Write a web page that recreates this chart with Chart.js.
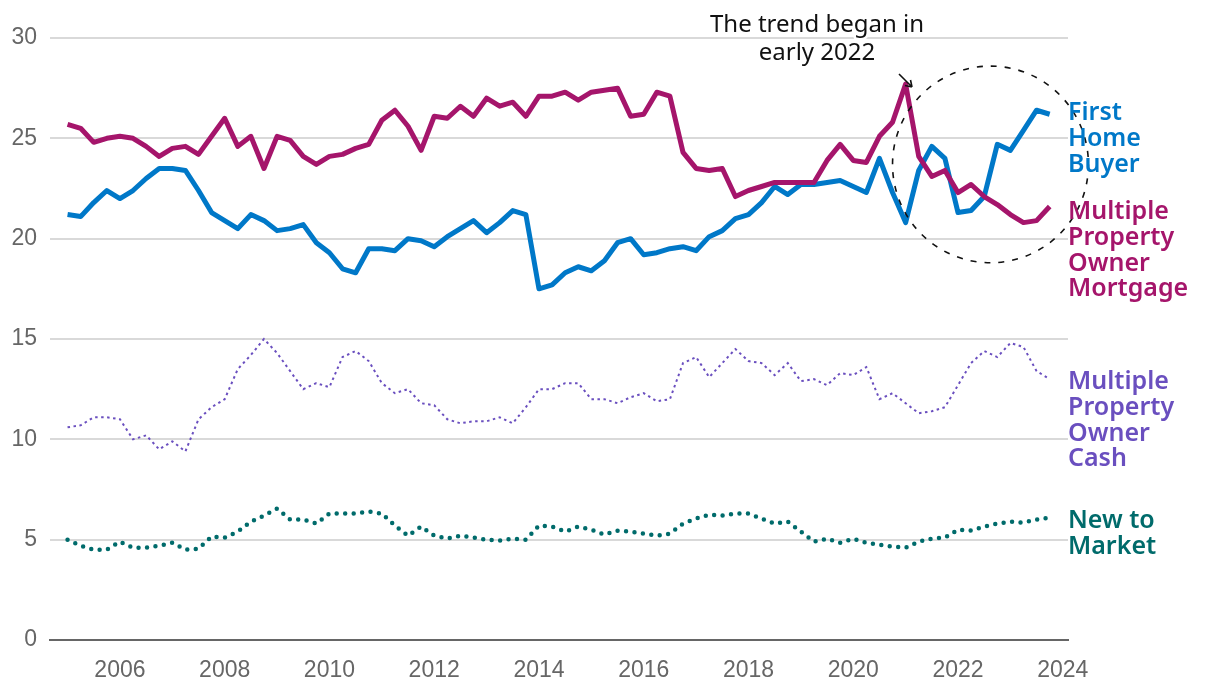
<!DOCTYPE html>
<html>
<head>
  <title>Buyer types</title>
  <script src="https://cdn.jsdelivr.net/npm/chart.js"></script>
  <style>
    html, body { margin: 0; padding: 0; background: #fff; }
    #wrap { width: 1220px; height: 686px; }
  </style>
</head>
<body>
  <div id="wrap">
    <canvas id="buyerChart"></canvas>
  </div>

  <script>
    // quarterly observations, 2005 Q1 to 2023 Q4
    const quarters = Array.from({ length: 76 }, (_, i) => 2005 + i / 4);
    const xTicks = [2006, 2008, 2010, 2012, 2014, 2016, 2018, 2020, 2022, 2024];
    const yTicks = [0, 5, 10, 15, 20, 25, 30];

    const firstHomeBuyer = [
      21.2, 21.1, 21.8, 22.4, 22.0, 22.4, 23.0, 23.5, 23.5, 23.4, 22.4, 21.3,
      20.9, 20.5, 21.2, 20.9, 20.4, 20.5, 20.7, 19.8, 19.3, 18.5, 18.3, 19.5,
      19.5, 19.4, 20.0, 19.9, 19.6, 20.1, 20.5, 20.9, 20.3, 20.8, 21.4, 21.2,
      17.5, 17.7, 18.3, 18.6, 18.4, 18.9, 19.8, 20.0, 19.2, 19.3, 19.5, 19.6,
      19.4, 20.1, 20.4, 21.0, 21.2, 21.8, 22.6, 22.2, 22.7, 22.7, 22.8, 22.9,
      22.6, 22.3, 24.0, 22.3, 20.8, 23.4, 24.6, 24.0, 21.3, 21.4, 22.1, 24.7,
      24.4, 25.4, 26.4, 26.2
    ];
    const mpoMortgage = [
      25.7, 25.5, 24.8, 25.0, 25.1, 25.0, 24.6, 24.1, 24.5, 24.6, 24.2, 25.1,
      26.0, 24.6, 25.1, 23.5, 25.1, 24.9, 24.1, 23.7, 24.1, 24.2, 24.5, 24.7,
      25.9, 26.4, 25.6, 24.4, 26.1, 26.0, 26.6, 26.1, 27.0, 26.6, 26.8, 26.1,
      27.1, 27.1, 27.3, 26.9, 27.3, 27.4, 27.5, 26.1, 26.2, 27.3, 27.1, 24.3,
      23.5, 23.4, 23.5, 22.1, 22.4, 22.6, 22.8, 22.8, 22.8, 22.8, 23.9, 24.7,
      23.9, 23.8, 25.1, 25.8, 27.7, 24.1, 23.1, 23.4, 22.3, 22.7, 22.1, 21.7,
      21.2, 20.8, 20.9, 21.6
    ];
    const mpoCash = [
      10.6, 10.7, 11.1, 11.1, 11.0, 10.0, 10.2, 9.5, 9.9, 9.4, 11.0, 11.6,
      12.0, 13.5, 14.2, 15.0, 14.3, 13.4, 12.5, 12.8, 12.6, 14.1, 14.4, 13.9,
      12.8, 12.3, 12.5, 11.8, 11.7, 11.0, 10.8, 10.9, 10.9, 11.1, 10.8, 11.6,
      12.5, 12.5, 12.8, 12.8, 12.0, 12.0, 11.8, 12.1, 12.3, 11.9, 12.0, 13.8,
      14.1, 13.1, 13.8, 14.5, 13.9, 13.8, 13.2, 13.8, 12.9, 13.0, 12.7, 13.3,
      13.2, 13.6, 12.0, 12.3, 11.8, 11.3, 11.4, 11.6, 12.7, 13.8, 14.4, 14.1,
      14.8, 14.6, 13.4, 13.0
    ];
    const newToMarket = [
      5.0, 4.7, 4.5, 4.5, 4.9, 4.6, 4.6, 4.7, 4.85, 4.5, 4.55, 5.15,
      5.1, 5.4, 5.9, 6.2, 6.55, 6.0, 6.0, 5.8, 6.3, 6.3, 6.3, 6.4,
      6.3, 5.7, 5.2, 5.65, 5.2, 5.05, 5.2, 5.1, 5.0, 4.95, 5.05, 5.0,
      5.7, 5.65, 5.4, 5.65, 5.5, 5.25, 5.45, 5.4, 5.3, 5.2, 5.3, 5.8,
      6.05, 6.25, 6.2, 6.3, 6.3, 6.05, 5.8, 5.9, 5.4, 4.9, 5.05, 4.85,
      5.05, 4.85, 4.75, 4.65, 4.6, 4.9, 5.05, 5.1, 5.5, 5.45, 5.65, 5.8,
      5.9, 5.85, 6.0, 6.1
    ];

    const BLUE = '#0078c8';
    const MAGENTA = '#a5156b';
    const PURPLE = '#6a4fbf';
    const TEAL = '#006b6b';

    const toPoints = arr => arr.map((v, i) => ({ x: quarters[i], y: v }));

    // labels at the right end of each line, plus the circled note
    const sideLabels = {
      id: 'sideLabels',
      afterDatasetsDraw(chart) {
        const { ctx, chartArea, scales } = chart;
        const x = scales.x;
        const y = scales.y;
        ctx.save();

        // dashed circle round the last two years
        const cx = x.getPixelForValue(2022.62);
        const cy = y.getPixelForValue(23.7);
        const rx = x.getPixelForValue(2022.62) - x.getPixelForValue(2020.75);
        const ry = y.getPixelForValue(18.8) - y.getPixelForValue(23.7);
        ctx.beginPath();
        ctx.setLineDash([6, 8]);
        ctx.lineWidth = 1.6;
        ctx.strokeStyle = '#111';
        ctx.ellipse(cx, cy, rx, ry, 0, 0, Math.PI * 2);
        ctx.stroke();

        // arrow
        ctx.setLineDash([]);
        ctx.lineWidth = 1.6;
        ctx.beginPath();
        ctx.moveTo(899, 74);
        ctx.lineTo(912, 87);
        ctx.moveTo(912, 87);
        ctx.lineTo(905, 85.5);
        ctx.moveTo(912, 87);
        ctx.lineTo(910.5, 80);
        ctx.stroke();

        // note text, with a white halo over the grid line
        ctx.textAlign = 'center';
        ctx.textBaseline = 'alphabetic';
        ctx.font = '400 24px "Noto Sans"';
        ctx.lineJoin = 'round';
        ctx.strokeStyle = '#fff';
        ctx.lineWidth = 5;
        ctx.fillStyle = '#111';
        [['The trend began in', 32], ['early 2022', 60]].forEach(([t, ty]) => {
          ctx.strokeText(t, 817, ty);
          ctx.fillText(t, 817, ty);
        });

        // series names
        const lx = chartArea.right;
        ctx.textAlign = 'left';
        ctx.font = '600 25px "Noto Sans"';
        const groups = [
          { color: BLUE, base: 120, lines: ['First', 'Home', 'Buyer'] },
          { color: MAGENTA, base: 219, lines: ['Multiple', 'Property', 'Owner', 'Mortgage'] },
          { color: PURPLE, base: 389, lines: ['Multiple', 'Property', 'Owner', 'Cash'] },
          { color: TEAL, base: 528, lines: ['New to', 'Market'] }
        ];
        groups.forEach(g => {
          ctx.fillStyle = g.color;
          g.lines.forEach((t, k) => ctx.fillText(t, lx, g.base + k * 25.8));
        });
        ctx.restore();
      }
    };

    new Chart(document.getElementById('buyerChart'), {
      type: 'line',
      data: {
        datasets: [
          {
            label: 'New to Market',
            data: toPoints(newToMarket),
            borderColor: TEAL,
            borderWidth: 4.5,
            borderDash: [0, 8.5],
            borderCapStyle: 'round',
            fill: false
          },
          {
            label: 'Multiple Property Owner Cash',
            data: toPoints(mpoCash),
            borderColor: PURPLE,
            borderWidth: 2,
            borderDash: [2.5, 3.5],
            fill: false
          },
          {
            label: 'Multiple Property Owner Mortgage',
            data: toPoints(mpoMortgage),
            borderColor: MAGENTA,
            borderWidth: 5,
            borderJoinStyle: 'round',
            fill: false
          },
          {
            label: 'First Home Buyer',
            data: toPoints(firstHomeBuyer),
            borderColor: BLUE,
            borderWidth: 5,
            borderJoinStyle: 'round',
            fill: false
          }
        ]
      },
      options: {
        responsive: true,
        maintainAspectRatio: false,
        animation: false,
        elements: { point: { radius: 0 }, line: { tension: 0 } },
        layout: { padding: { top: 38, right: 152, left: 0, bottom: 0 } },
        plugins: {
          legend: { display: false },
          tooltip: { enabled: false }
        },
        scales: {
          x: {
            type: 'linear',
            min: 2004.665,
            max: 2024.1,
            afterBuildTicks: s => { s.ticks = xTicks.map(v => ({ value: v })); },
            afterFit: s => { s.height = 46; },
            grid: { display: false },
            border: { display: true, color: '#666', width: 2 },
            ticks: {
              callback: v => String(v),
              color: '#666',
              padding: 9,
              maxRotation: 0,
              font: { family: 'Liberation Sans', size: 23 }
            }
          },
          y: {
            min: 0,
            max: 30,
            afterBuildTicks: s => { s.ticks = yTicks.map(v => ({ value: v })); },
            afterFit: s => { s.width = 50; },
            border: { display: false },
            grid: { color: '#d9d9d9', lineWidth: 2, drawTicks: false },
            ticks: {
              color: '#666',
              padding: 13,
              font: { family: 'Liberation Sans', size: 23 }
            }
          }
        }
      },
      plugins: [sideLabels]
    });
  </script>
</body>
</html>
